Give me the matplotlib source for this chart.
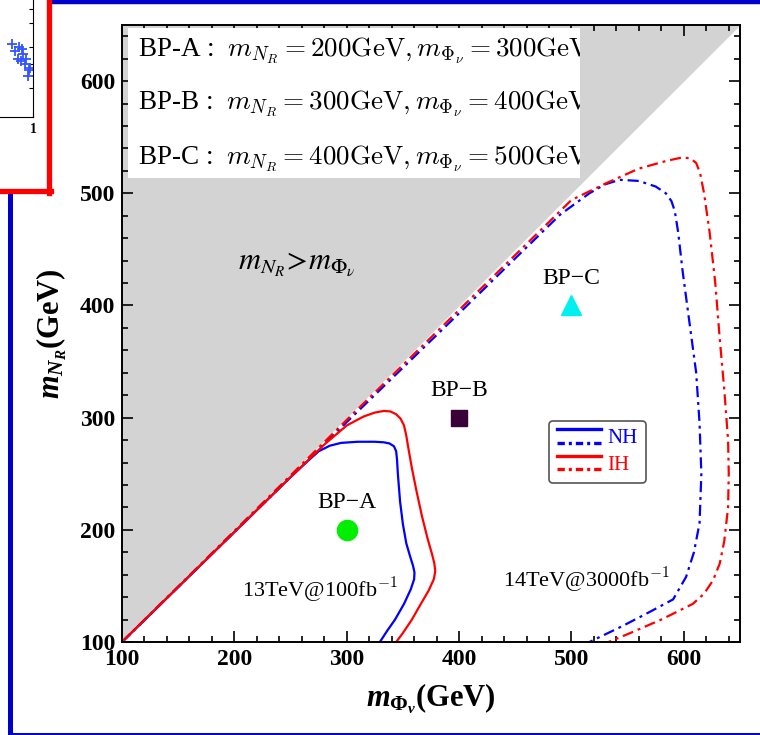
import numpy as np
import matplotlib
matplotlib.use("Agg")
import matplotlib.pyplot as plt
from matplotlib.lines import Line2D
from matplotlib.patches import Rectangle
from matplotlib.transforms import Bbox, TransformedBbox
from matplotlib.legend_handler import HandlerBase

plt.rcParams["font.family"] = ["Liberation Serif", "DejaVu Serif"]
plt.rcParams["mathtext.fontset"] = "custom"
plt.rcParams["mathtext.it"] = "Liberation Serif:italic:bold"
plt.rcParams["mathtext.rm"] = "Liberation Serif:bold"
plt.rcParams["mathtext.bf"] = "Liberation Serif:bold"

# 13 TeV @ 100 fb^-1 contours
nh13_x = [100, 150, 200, 250, 265, 275, 285, 295, 310, 325, 333, 338, 342, 344, 344.8, 345.5, 347.5, 350, 353,
          356.5, 359, 360.3, 360, 357, 351, 343, 336, 329.5]
nh13_y = [100, 149, 198, 247, 261, 270, 275, 277.5, 278.5, 278.5, 278, 277, 274.5, 270, 262, 250, 225, 205, 188,
          176, 168, 162, 156, 147, 134, 120, 110, 100]
ih13_x = [100, 200, 250, 280, 300, 315, 325, 333, 339, 344, 348, 351, 353, 355, 358, 362, 367, 372, 376, 378,
          378.8, 377.5, 373, 366, 358, 350, 344]
ih13_y = [100, 198, 247, 276, 293, 301, 304.5, 306, 305.5, 303, 299, 293, 284, 272, 255, 235, 212, 192, 178, 170,
          163, 156, 146, 134, 120, 108, 100]

# 14 TeV @ 3000 fb^-1 contours
nh14_x = [100, 200, 300, 400, 450, 490, 516, 530, 543, 560, 575, 584, 589, 592, 595, 599, 605, 611, 614, 615.6,
          614, 609, 602, 590.5, 570, 545, 516]
nh14_y = [100, 198, 296, 393, 442, 481, 500, 508, 512, 511, 506, 500, 493, 484, 465, 430, 385, 340, 295, 250,
          206, 180, 158, 138, 127, 114, 100]
ih14_x = [100, 300, 400, 500, 531, 560, 585, 599, 606, 611, 614.5, 618, 623, 628, 632, 636, 639.4, 640, 639.4,
          636, 632, 626, 618, 608, 580, 550, 533]
ih14_y = [100, 298, 396, 494, 509, 522, 529, 532, 531, 527, 518, 500, 465, 420, 370, 325, 280, 250, 220,
          190, 170, 155, 143, 134, 120, 107, 100]

# benchmark points
bp_names = ["BP\u2212A", "BP\u2212B", "BP\u2212C"]
bp_phi = [300, 400, 500]
bp_nr = [200, 300, 400]
bp_lines = [
    r"BP-A :  $m_{N_R} = 200\mathrm{GeV}, m_{\Phi_\nu} = 300\mathrm{GeV}$",
    r"BP-B :  $m_{N_R} = 300\mathrm{GeV}, m_{\Phi_\nu} = 400\mathrm{GeV}$",
    r"BP-C :  $m_{N_R} = 400\mathrm{GeV}, m_{\Phi_\nu} = 500\mathrm{GeV}$",
]

# scrap of the neighbouring figure (top-left corner)
scrap_x = [0.05, 0.2, 0.35, 0.45, 0.55, 0.62, 0.7, 0.8, 0.88, 0.5, 0.3, 0.75]
scrap_y = [0.62, 0.56, 0.6, 0.48, 0.54, 0.45, 0.5, 0.4, 0.42, 0.58, 0.5, 0.35]

NH_COLOR = "#0000ff"
IH_COLOR = "#ff0000"
DASHDOT = (0, (5, 2.2, 1.3, 2.2))

fig = plt.figure(figsize=(7.6, 7.35), dpi=100)
ax = fig.add_axes([122 / 760, 93 / 735, 618 / 760, 617 / 735])
ax.set_xlim(100, 650)
ax.set_ylim(100, 650)

diag = np.array([100, 650])
ax.fill_between(diag, diag, 650, color="#d3d3d3", lw=0, zorder=0)

ax.plot(nh14_x, nh14_y, color=NH_COLOR, lw=1.6, ls=DASHDOT, zorder=3)
ax.plot(ih14_x, ih14_y, color=IH_COLOR, lw=1.6, ls=DASHDOT, zorder=3)
ax.plot(nh13_x, nh13_y, color=NH_COLOR, lw=1.6, zorder=4)
ax.plot(ih13_x, ih13_y, color=IH_COLOR, lw=1.6, zorder=4)

markers = ["o", "s", "^"]
mcolors = ["#00ee00", "#3a0038", "#00f0f0"]
msizes = [14.5, 12, 14]
for name, xp, yp, mk, mc, ms in zip(bp_names, bp_phi, bp_nr, markers, mcolors, msizes):
    ax.plot([xp], [yp], marker=mk, color=mc, ms=ms, mec=mc, zorder=5)
    ax.text(xp, yp + 15, name, ha="center", va="bottom", fontsize=17, zorder=5)

ax.text(276, 146, r"13TeV@100fb$^{-1}$", ha="center", va="center", fontsize=16,
        math_fontfamily="cm")
ax.text(513, 155, r"14TeV@3000fb$^{-1}$", ha="center", va="center", fontsize=16,
        math_fontfamily="cm")
ax.text(256, 437, r"$m_{N_R}\!>\!m_{\Phi_\nu}$", ha="center", va="center", fontsize=22,
        math_fontfamily="stix")

box_x0, box_y0, box_x1, box_y1 = 105.3, 514, 507.5, 647
box = Rectangle((box_x0, box_y0), box_x1 - box_x0, box_y1 - box_y0,
                facecolor="white", edgecolor="none", zorder=6)
ax.add_patch(box)
clip = TransformedBbox(Bbox([[box_x0, box_y0], [box_x1, box_y1]]), ax.transData)
for line, yv in zip(bp_lines, [627, 580, 531]):
    t = ax.text(114, yv, line, ha="left", va="center", fontsize=19.5, zorder=7,
                math_fontfamily="cm", clip_on=True)
    t.set_clip_box(clip)

# legend with two stacked line styles per label
class StackedHandler(HandlerBase):
    def create_artists(self, legend, orig_handle, xdescent, ydescent, width, height, fontsize, trans):
        color = orig_handle[0].get_color()
        y_hi = height * 1.0 - ydescent
        y_lo = height * 0.0 - ydescent
        l1 = Line2D([-xdescent, width - xdescent], [y_hi, y_hi], color=color, lw=2.4, transform=trans)
        l2 = Line2D([-xdescent, width - xdescent], [y_lo, y_lo], color=color, lw=2.4,
                    ls=(0, (2.2, 1.2, 0.9, 1.2)), transform=trans)
        return [l1, l2]

h_nh = (Line2D([], [], color=NH_COLOR), Line2D([], [], color=NH_COLOR, ls=DASHDOT))
h_ih = (Line2D([], [], color=IH_COLOR), Line2D([], [], color=IH_COLOR, ls=DASHDOT))
leg = ax.legend([h_nh, h_ih], ["NH", "IH"], handler_map={tuple: StackedHandler()},
                loc="upper left", bbox_to_anchor=(0.691, 0.358), fontsize=15,
                handlelength=2.1, handleheight=0.6, labelspacing=0.35, handletextpad=0.3,
                borderpad=0.4, borderaxespad=0, fancybox=True, framealpha=1,
                edgecolor="#555555")
leg.get_frame().set_linewidth(1.2)
leg.set_zorder(8)
for txt, c in zip(leg.get_texts(), [NH_COLOR, IH_COLOR]):
    txt.set_color(c)

ax.set_xticks([100, 200, 300, 400, 500, 600])
ax.set_yticks([100, 200, 300, 400, 500, 600])
ax.set_xticks(np.arange(100, 651, 20), minor=True)
ax.set_yticks(np.arange(100, 651, 20), minor=True)
ax.tick_params(which="both", direction="in", top=True, right=True, width=1.2)
ax.tick_params(which="major", length=8, labelsize=17, pad=5)
ax.tick_params(which="minor", length=4)
for lab in ax.get_xticklabels() + ax.get_yticklabels():
    lab.set_fontweight("bold")
for sp in ax.spines.values():
    sp.set_linewidth(1.4)
    sp.set_zorder(9)

ax.set_xlabel(r"$m_{\Phi_\nu}$(GeV)", fontsize=22, fontweight="bold", labelpad=8)
ax.set_ylabel(r"$m_{N_R}$(GeV)", fontsize=22, fontweight="bold", labelpad=8)

# page decorations: blue frame and red box of the neighbouring panel
fig.add_artist(Line2D([51 / 760, 1], [733.5 / 735] * 2, color="#0000cc", lw=3.2))
fig.add_artist(Line2D([9.5 / 760] * 2, [0, (735 - 192) / 735], color="#0000cc", lw=3.6))
fig.add_artist(Line2D([9.5 / 760, 1], [1.5 / 735] * 2, color="#0000cc", lw=1.4))
fig.add_artist(Line2D([48.5 / 760] * 2, [1, (735 - 193) / 735], color="#ff0000", lw=3.8))
fig.add_artist(Line2D([0, 51 / 760], [(735 - 191) / 735] * 2, color="#ff0000", lw=3.8))

sax = fig.add_axes([0, (735 - 117) / 735, 33 / 760, 117 / 735])
sax.plot(scrap_x, scrap_y, "+", color="#3355ff", ms=7, mew=1.3)
sax.set_xlim(-0.5, 1)
sax.set_ylim(0, 1)
sax.spines["top"].set_visible(False)
sax.spines["left"].set_visible(False)
sax.spines["right"].set_linewidth(0.8)
sax.spines["bottom"].set_linewidth(0.8)
sax.set_xticks([1])
sax.set_xticklabels(["1"], fontsize=10, fontweight="bold")
sax.tick_params(direction="in", length=3, pad=4)
sax.yaxis.set_ticks_position("right")
sax.set_yticks([0.25, 0.45, 0.6, 0.8, 0.92])
sax.set_yticklabels([])

fig.savefig("out.png", dpi=100)
